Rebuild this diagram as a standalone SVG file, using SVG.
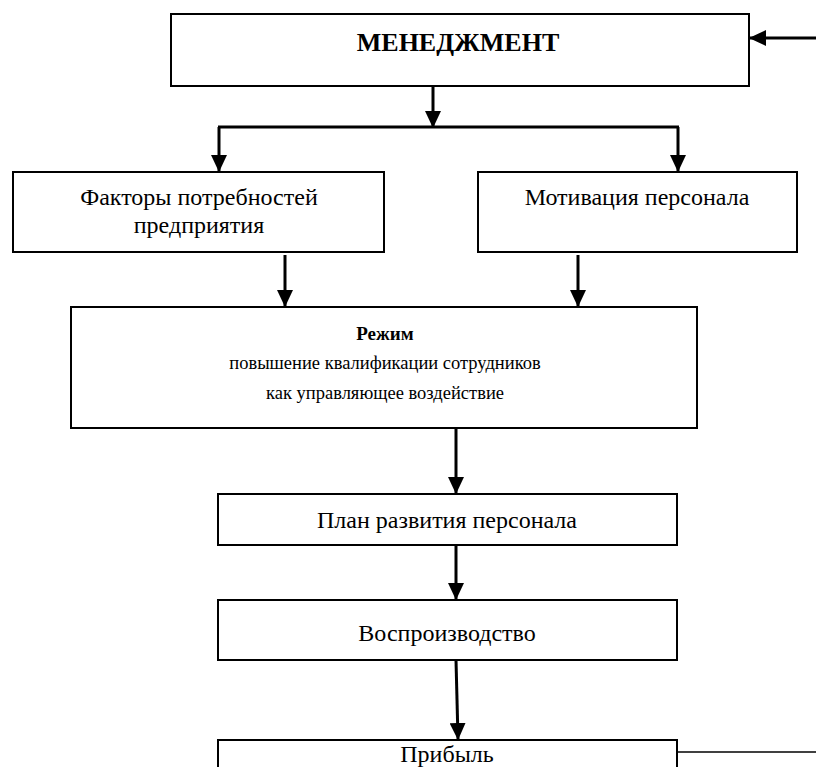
<svg xmlns="http://www.w3.org/2000/svg" width="816" height="767" viewBox="0 0 816 767">
<style>
.box{fill:#fff;stroke:#000;stroke-width:2}
.t{font-family:"Liberation Serif","Times New Roman",serif;fill:#000;text-anchor:middle}
.c{stroke:#000;stroke-width:3;fill:none}
.a{marker-end:url(#ah)}
</style>
<defs>
<marker id="ah" markerUnits="userSpaceOnUse" markerWidth="17" markerHeight="16" viewBox="0 0 17 16" refX="16" refY="8" orient="auto">
<path d="M0,0 L17,8 L0,16 z" fill="#000"/>
</marker>
</defs>
<g id="connectors">
<line class="c a" x1="816" y1="38" x2="750" y2="38"/>
<line class="c a" x1="433" y1="86" x2="433" y2="127"/>
<line class="c" x1="218" y1="127" x2="679" y2="127"/>
<line class="c a" x1="219" y1="127" x2="219" y2="171"/>
<line class="c a" x1="678" y1="127" x2="678" y2="171"/>
<line class="c a" x1="285" y1="255" x2="285" y2="306"/>
<line class="c a" x1="578" y1="255" x2="578" y2="306"/>
<line class="c a" x1="456" y1="428" x2="456" y2="493"/>
<line class="c a" x1="456" y1="545" x2="456" y2="599"/>
<line class="c a" x1="456" y1="660" x2="458" y2="739"/>
<line x1="677" y1="752" x2="816" y2="752" stroke="#000" stroke-width="1.5"/>
</g>
<g id="management">
<rect class="box" x="171" y="14" width="578" height="72"/>
<text class="t" x="458" y="51" font-size="26" font-weight="bold">МЕНЕДЖМЕНТ</text>
</g>
<g id="factors">
<rect class="box" x="13" y="172" width="371" height="80"/>
<text class="t" x="199" y="205" font-size="24">Факторы потребностей</text>
<text class="t" x="199" y="233" font-size="24">предприятия</text>
</g>
<g id="motivation">
<rect class="box" x="478" y="172" width="319" height="80"/>
<text class="t" x="637" y="205" font-size="24">Мотивация персонала</text>
</g>
<g id="regime">
<rect class="box" x="71" y="307" width="626" height="121"/>
<text class="t" x="385" y="340" font-size="19" font-weight="bold">Режим</text>
<text class="t" x="385" y="369" font-size="18.5">повышение квалификации сотрудников</text>
<text class="t" x="385" y="399" font-size="18.5">как управляющее воздействие</text>
</g>
<g id="plan">
<rect class="box" x="218" y="494" width="459" height="51"/>
<text class="t" x="447" y="528" font-size="24">План развития персонала</text>
</g>
<g id="reproduction">
<rect class="box" x="218" y="600" width="459" height="60"/>
<text class="t" x="447" y="641" font-size="24">Воспроизводство</text>
</g>
<g id="profit">
<rect class="box" x="218" y="740" width="459" height="40"/>
<text class="t" x="447" y="762" font-size="24">Прибыль</text>
</g>
</svg>
